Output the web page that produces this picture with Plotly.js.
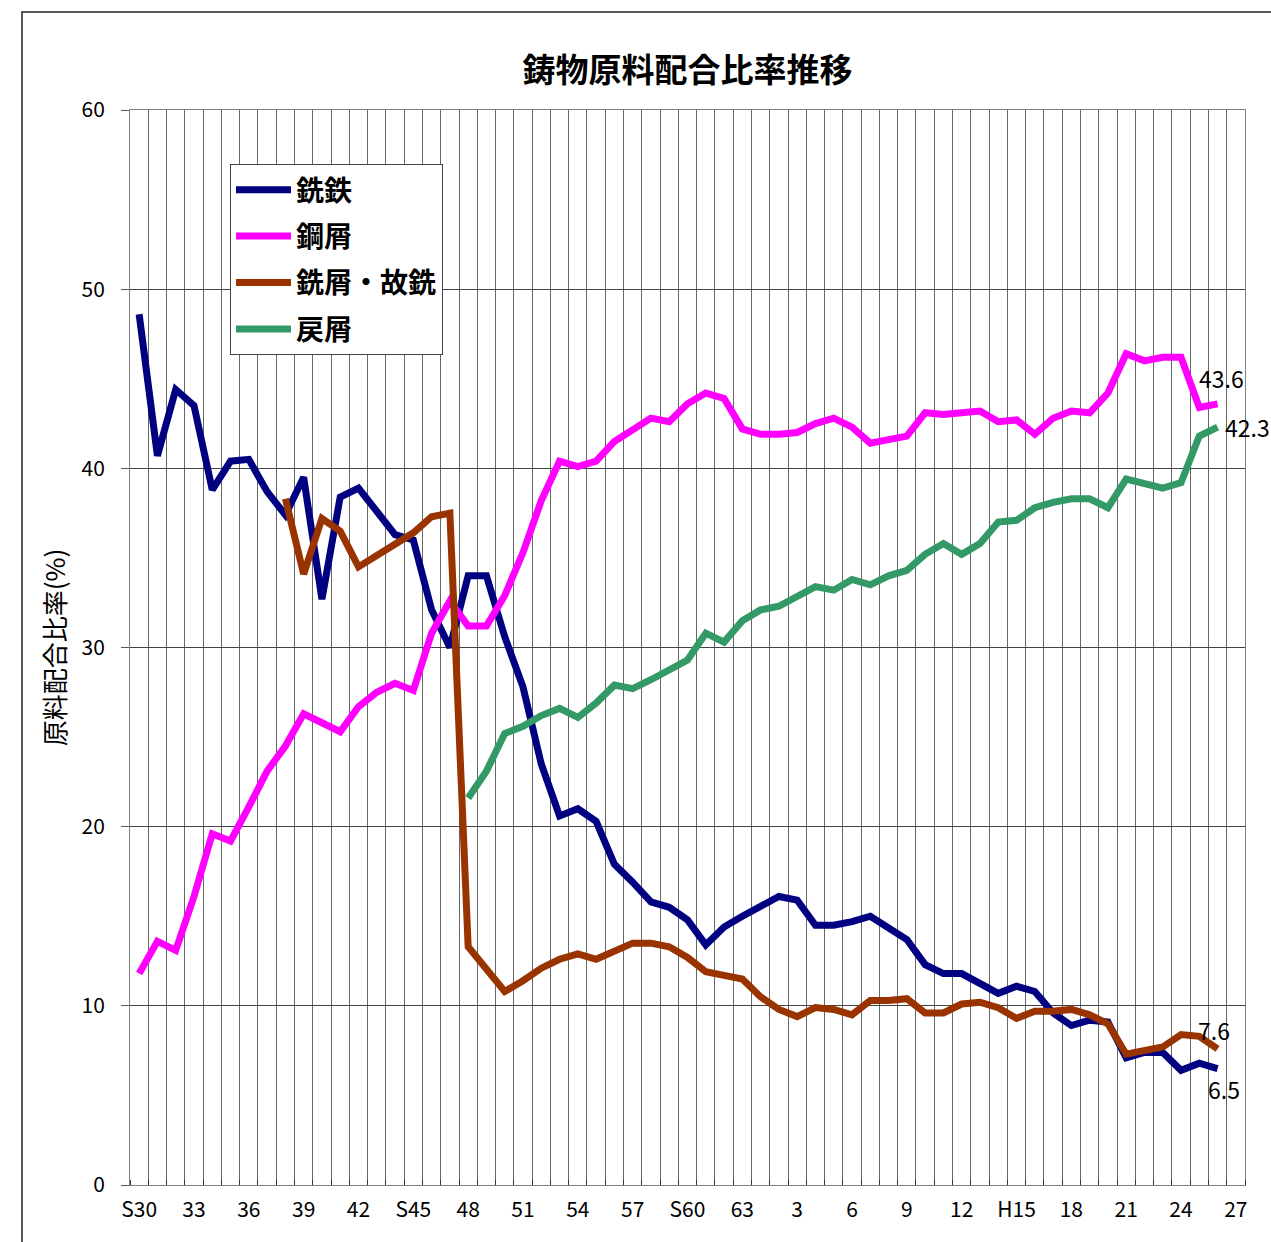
<!DOCTYPE html>
<html>
<head>
<meta charset="utf-8">
<script src="https://cdn.plot.ly/plotly-3.0.1.min.js"></script>
<style>html,body{margin:0;padding:0;background:#fff;}</style>
</head>
<body>
<div id="chart" style="width:1271px;height:1242px;"></div>
<script>
// Fiscal years S30 (1955) .. H26 (2014)
const years = [1955,1956,1957,1958,1959,1960,1961,1962,1963,1964,
               1965,1966,1967,1968,1969,1970,1971,1972,1973,1974,
               1975,1976,1977,1978,1979,1980,1981,1982,1983,1984,
               1985,1986,1987,1988,1989,1990,1991,1992,1993,1994,
               1995,1996,1997,1998,1999,2000,2001,2002,2003,2004,
               2005,2006,2007,2008,2009,2010,2011,2012,2013,2014];

const tickYears  = [1955,1958,1961,1964,1967,1970,1973,1976,1979,1982,1985,1988,1991,1994,1997,2000,2003,2006,2009,2012,2015];
const tickLabels = ['S30','33','36','39','42','S45','48','51','54','57','S60','63','3','6','9','12','H15','18','21','24','27'];

const seriesNames = ['銑鉄','鋼屑','銑屑・故銑','戻屑'];

// 銑鉄
const pigIron = [48.6,40.7,44.4,43.5,38.8,40.4,40.5,38.7,37.4,39.5,
                 32.7,38.4,38.9,37.6,36.3,36.0,32.1,30.0,34.0,34.0,
                 30.6,27.8,23.5,20.6,21.0,20.3,17.9,16.9,15.8,15.5,
                 14.8,13.4,14.4,15.0,15.6,16.1,15.9,14.5,14.5,14.7,
                 15.0,14.3,13.7,12.3,11.8,11.8,11.2,10.7,11.1,10.8,
                 9.6,8.9,9.2,9.1,7.1,7.4,7.4,6.4,6.8,6.5];

// 鋼屑
const steelScrap = [11.8,13.6,13.1,16.1,19.6,19.2,21.1,23.1,24.5,26.3,
                    25.8,25.3,26.7,27.5,28.0,27.6,30.8,32.6,31.2,31.2,
                    32.9,35.3,38.2,40.4,40.1,40.4,41.5,42.2,42.8,42.6,
                    43.6,44.2,43.9,42.2,41.9,41.9,42.0,42.5,42.8,42.3,
                    41.4,41.6,41.8,43.1,43.0,43.1,43.2,42.6,42.7,41.9,
                    42.8,43.2,43.1,44.2,46.4,46.0,46.2,46.2,43.4,43.6];

// 銑屑・故銑
const castScrap = [null,null,null,null,null,null,null,null,38.3,34.1,
                   37.2,36.5,34.5,35.1,35.8,36.4,37.3,37.5,13.3,12.0,
                   10.8,11.4,12.1,12.6,12.9,12.6,13.1,13.5,13.5,13.3,
                   12.7,11.9,11.7,11.5,10.5,9.8,9.4,9.9,9.8,9.5,
                   10.3,10.3,10.4,9.6,9.6,10.1,10.2,9.9,9.3,9.7,
                   9.7,9.8,9.5,9.0,7.3,7.5,7.7,8.4,8.3,7.6];

// 戻屑
const returnScrap = [null,null,null,null,null,null,null,null,null,null,
                     null,null,null,null,null,null,null,null,21.6,23.1,
                     25.2,25.6,26.2,26.6,26.1,26.9,27.9,27.7,28.2,28.8,
                     29.3,30.8,30.3,31.5,32.1,32.3,32.9,33.4,33.2,33.8,
                     33.5,34.0,34.3,35.2,35.8,35.2,35.8,37.0,37.1,37.8,
                     38.1,38.3,38.3,37.8,39.4,39.2,38.9,39.2,41.8,42.3];

const colors = ['#000080','#FF00FF','#993300','#339966'];
const allSeries = [pigIron, steelScrap, castScrap, returnScrap];
// end-label placement (style only): [xshift, yshift, xanchor]
const labelStyle = [[6,-20,'center'],[4,26,'center'],[-4,19,'center'],[5,0,'left']];

const FONT = '"Noto Sans CJK JP", "Noto Sans", sans-serif';

const traces = allSeries.map((vals, k) => ({
  type: 'scatter',
  mode: 'lines',
  name: seriesNames[k],
  legendgroup: 'g'+k,
  x: years,
  y: vals,
  line: {color: colors[k], width: 7},
  hoverinfo: 'x+y'
}));

const annotations = allSeries.map((vals, k) => {
  const last = vals.length - 1;
  return {
    x: years[last], y: vals[last], xref: 'x', yref: 'y',
    text: vals[last].toFixed(1), showarrow: false,
    xanchor: labelStyle[k][2], yanchor: 'middle',
    xshift: labelStyle[k][0], yshift: labelStyle[k][1],
    font: {family: FONT, size: 23, color: '#000'}
  };
});

const layout = {
  width: 1271,
  height: 1242,
  margin: {l: 130, r: 26, t: 110, b: 57},
  paper_bgcolor: '#fff',
  plot_bgcolor: '#fff',
  font: {family: FONT, size: 21, color: '#000'},
  title: {
    text: '鋳物原料配合比率推移',
    font: {family: FONT, size: 33, color: '#000', weight: 'bold'},
    x: 0.5, xref: 'paper', xanchor: 'center',
    y: 1 - 70/1242, yref: 'container', yanchor: 'middle'
  },
  xaxis: {
    type: 'linear',
    range: [1954.5, 2015.5],
    tickmode: 'array', tickvals: tickYears, ticktext: tickLabels,
    ticks: '', showgrid: false,
    tickfont: {family: FONT, size: 21, color: '#000'},
    ticklabelstandoff: 6,
    minor: {
      tickmode: 'linear', tick0: 1954.5, dtick: 1,
      showgrid: true, gridcolor: '#666', gridwidth: 1,
      ticks: 'inside', ticklen: 5, tickcolor: '#333'
    },
    showline: true, linecolor: '#808080', linewidth: 1, mirror: true,
    zeroline: false, fixedrange: true
  },
  yaxis: {
    range: [0, 60],
    tickmode: 'linear', tick0: 0, dtick: 10,
    showgrid: true, gridcolor: '#444', gridwidth: 1,
    ticks: 'outside', ticklen: 8, tickcolor: '#555',
    showline: true, linecolor: '#808080', linewidth: 1, mirror: true,
    zeroline: false,
    tickfont: {family: FONT, size: 21, color: '#000'},
    ticklabelstandoff: 12,
    title: {text: '原料配合比率(%)', font: {family: FONT, size: 26, color: '#000'}, standoff: 8},
    fixedrange: true
  },
  legend: {
    x: (230-130)/1115, y: (1185-164)/1075,
    xanchor: 'left', yanchor: 'top',
    bgcolor: '#fff', bordercolor: '#444', borderwidth: 1,
    font: {family: FONT, size: 28, color: '#000', weight: 'bold'},
    traceorder: 'grouped', tracegroupgap: 7,
    itemwidth: 55
  },
  annotations: annotations,
  shapes: [{
    type: 'rect', xref: 'paper', yref: 'paper', layer: 'below',
    x0: (22-130)/1115, x1: (1290-130)/1115,
    y0: (1185-1260)/1075, y1: 1 + (110-12)/1075,
    line: {color: '#222', width: 1.5}, fillcolor: 'rgba(0,0,0,0)'
  }],
  showlegend: true
};

Plotly.newPlot('chart', traces, layout, {staticPlot: true, displayModeBar: false});
</script>
</body>
</html>
